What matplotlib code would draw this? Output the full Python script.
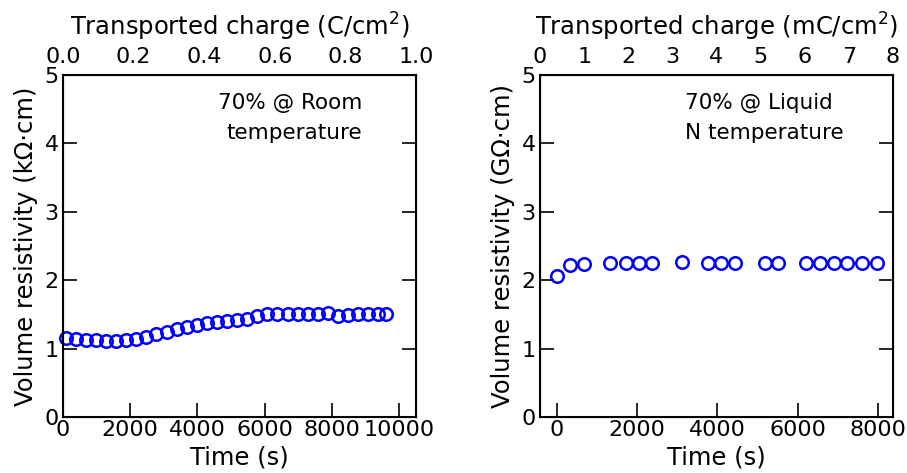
import numpy as np
import matplotlib
matplotlib.use('Agg')
import matplotlib.pyplot as plt

# room temperature run
time_room = [80, 380, 680, 980, 1280, 1580, 1880, 2180, 2480, 2780, 3080,
             3380, 3680, 3980, 4280, 4580, 4880, 5180, 5480, 5780, 6080,
             6380, 6680, 6980, 7280, 7580, 7880, 8180, 8480, 8780, 9080,
             9380, 9620]
rho_room = [1.16, 1.14, 1.13, 1.12, 1.11, 1.11, 1.12, 1.14, 1.17, 1.21, 1.25,
            1.28, 1.31, 1.34, 1.37, 1.39, 1.41, 1.42, 1.43, 1.48, 1.51,
            1.51, 1.50, 1.50, 1.50, 1.51, 1.52, 1.48, 1.49, 1.50, 1.51,
            1.51, 1.50]

# liquid nitrogen run
time_ln2 = [0, 330, 670, 1320, 1730, 2050, 2370, 3120, 3770, 4100, 4430,
            5180, 5510, 6200, 6550, 6900, 7230, 7600, 7970]
rho_ln2 = [2.06, 2.22, 2.24, 2.25, 2.25, 2.25, 2.25, 2.26, 2.25, 2.25, 2.25,
           2.25, 2.25, 2.25, 2.25, 2.25, 2.25, 2.25, 2.25]

W, H = 907, 473
fig = plt.figure(figsize=(W / 100, H / 100), dpi=100)

panels = [
    dict(left=63, t=time_room, r=rho_room, xlim=(0, 10500),
         xticks=[0, 2000, 4000, 6000, 8000, 10000],
         top=(0, 1), top_ticks=[0.0, 0.2, 0.4, 0.6, 0.8, 1.0],
         top_label=r'Transported charge (C/cm$^2$)',
         ylabel=u'Volume resistivity (k\u03a9\u00b7cm)',
         note='70% @ Room\ntemperature', note_x=8900, note_ha='right'),
    dict(left=540, t=time_ln2, r=rho_ln2, xlim=(-420, 8380),
         xticks=[0, 2000, 4000, 6000, 8000],
         top=(0, 8), top_ticks=[0, 1, 2, 3, 4, 5, 6, 7, 8],
         top_label=r'Transported charge (mC/cm$^2$)',
         ylabel=u'Volume resistivity (G\u03a9\u00b7cm)',
         note='70% @ Liquid\nN temperature', note_x=3190, note_ha='left'),
]

for p in panels:
    ax = fig.add_axes([p['left'] / W, (H - 417) / H, 353 / W, 342 / H])
    ax.plot(p['t'], p['r'], 'o', mfc='none', mec='blue', mew=1.8, ms=9,
            clip_on=False)
    ax.set_xlim(*p['xlim'])
    ax.set_ylim(0, 5)
    ax.set_xticks(p['xticks'])
    ax.set_yticks([0, 1, 2, 3, 4, 5])
    ax.tick_params(direction='in', length=10, width=1.2, labelsize=16,
                   pad=3, right=True, top=False)
    ax.tick_params(axis='x', pad=2)
    ax.set_xlabel('Time (s)', fontsize=17.5, labelpad=4)
    ax.set_ylabel(p['ylabel'], fontsize=17.5, labelpad=5)
    for s in ax.spines.values():
        s.set_linewidth(1.5)
    ax.text(p['note_x'], 4.74, p['note'], ha=p['note_ha'], va='top',
            fontsize=15.5, linespacing=1.65)

    top = ax.twiny()
    top.set_xlim(*p['top'])
    top.set_xticks(p['top_ticks'])
    top.tick_params(length=0, labelsize=16, pad=6)
    top.set_xlabel(p['top_label'], fontsize=17.5, labelpad=8)

fig.savefig('out.png', dpi=100)
